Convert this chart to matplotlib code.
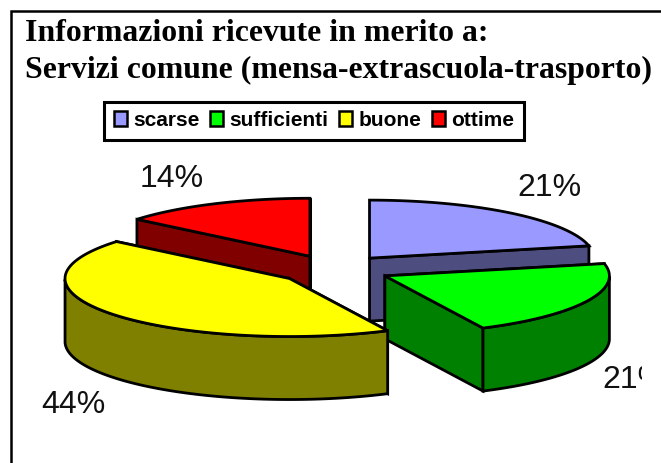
import matplotlib as mpl
mpl.use('Agg')
import matplotlib.pyplot as plt
from matplotlib.patches import Patch, Polygon, Rectangle
import numpy as np

title_lines = ["Informazioni ricevute in merito a:", "Servizi comune (mensa-extrascuola-trasporto)"]
categories = ["scarse", "sufficienti", "buone", "ottime"]
shares = [21.6, 21.2, 43.2, 14.0]
share_labels = ["21%", "21%", "44%", "14%"]
top_colors = ["#9999FF", "#00FF00", "#FFFF00", "#FF0000"]
side_colors = ["#4D4D80", "#008000", "#808000", "#800000"]

W, H = 661, 463
CX, CY = 334, 269.5
A, B = 224.5, 58
DEPTH = 63
EXPLODE = 0.252
LW = 2.0


def slice_angles():
    # clockwise from the top, like the spreadsheet pie
    edges = 90 - np.cumsum([0] + shares) * 3.6
    return list(zip(edges[:-1], edges[1:]))


def draw_slice(ax, start, end, top, side, z):
    mid = np.radians((start + end) / 2)
    ox = CX + EXPLODE * A * np.cos(mid)
    oy = CY - EXPLODE * B * np.sin(mid)
    th = np.radians(np.linspace(start, end, 120))
    xs = ox + A * np.cos(th)
    ys = oy - B * np.sin(th)

    style = dict(edgecolor="black", linewidth=LW, joinstyle="miter", zorder=z)
    for i in [0, -1]:
        face = [(ox, oy), (xs[i], ys[i]), (xs[i], ys[i] + DEPTH), (ox, oy + DEPTH)]
        ax.add_patch(Polygon(face, closed=True, facecolor=side, **style))

    front = np.sin(th) < 0
    if front.any():
        wall = np.column_stack([np.r_[xs[front], xs[front][::-1]],
                                np.r_[ys[front], ys[front][::-1] + DEPTH]])
        ax.add_patch(Polygon(wall, closed=True, facecolor=side, **style))

    surface = np.column_stack([np.r_[ox, xs], np.r_[oy, ys]])
    ax.add_patch(Polygon(surface, closed=True, facecolor=top, **style))


def main():
    fig = plt.figure(figsize=(W / 100, H / 100), dpi=100)
    ax = fig.add_axes([0, 0, 1, 1])
    ax.set_xlim(0, W)
    ax.set_ylim(H, 0)
    ax.axis("off")

    ax.plot([11, 11, W], [H, 11, 11], color="black", linewidth=1.8, solid_joinstyle="miter")

    for line, y in zip(title_lines, [41, 78]):
        ax.text(25, y, line, family="Liberation Serif", weight="bold", fontsize=22.9, va="baseline")

    angles = slice_angles()
    # back slices first, yellow ends up over the green one
    for z, i in enumerate([0, 3, 1, 2]):
        draw_slice(ax, angles[i][0], angles[i][1], top_colors[i], side_colors[i], 2 + z)

    label_pos = [(517, 196), (602, 388), (41, 413), (140, 187)]
    clip = Rectangle((0, 0), 642, H, transform=ax.transData)
    for label, (x, y) in zip(share_labels, label_pos):
        t = ax.text(x, y, label, family="Liberation Sans", fontsize=23, va="baseline", color="#111111",
                    zorder=7, clip_on=True)
        t.set_clip_path(clip)

    # legend box is drawn apart, its side padding is tighter than the top and bottom
    ax.add_patch(Rectangle((104, 102), 420, 37.5, facecolor="white", edgecolor="black", linewidth=2.2, zorder=8))
    handles = [Patch(facecolor=c, edgecolor="black", linewidth=1.8) for c in top_colors]
    leg = ax.legend(handles, categories, ncol=4, loc="center", bbox_to_anchor=(314 / W, 1 - 120.5 / H),
                    prop={"family": "Liberation Sans", "weight": "bold", "size": 15},
                    frameon=False, handlelength=0.62, handleheight=0.7, handletextpad=0.3, columnspacing=0.52,
                    borderaxespad=0)
    leg.set_zorder(9)

    fig.savefig("out.png", dpi=100)


if __name__ == "__main__":
    main()
